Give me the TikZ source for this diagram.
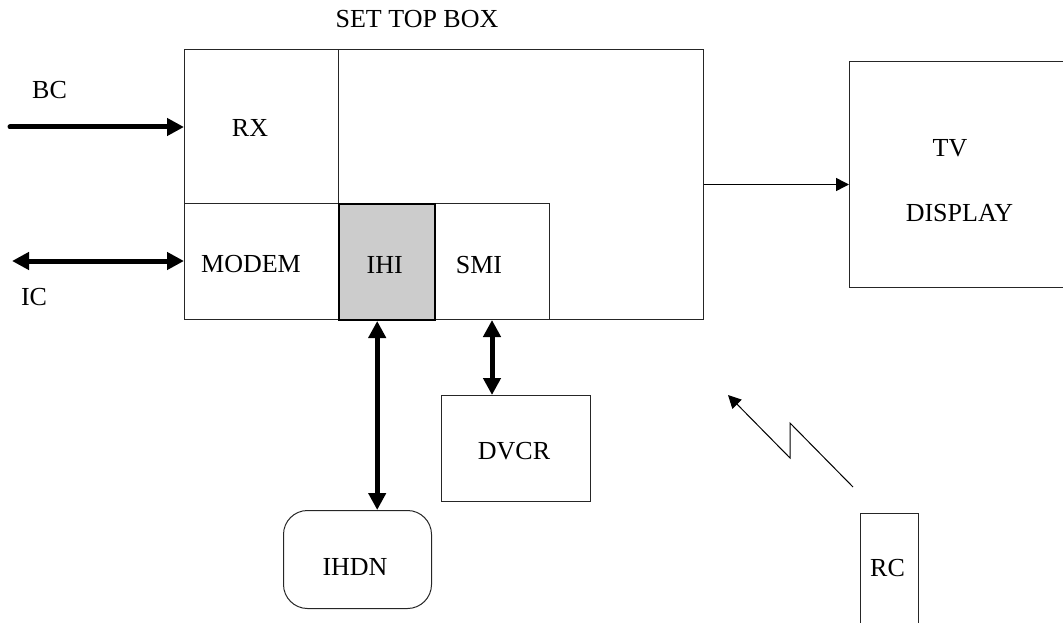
\documentclass[tikz,border=0pt]{standalone}
\usepackage{fontspec}
\setmainfont{Liberation Serif}
\usetikzlibrary{arrows.meta,calc}
\begin{document}
\begin{tikzpicture}[x=1pt,y=-1pt,
  box/.style={draw=black!85,line width=1pt,rectangle,inner sep=0pt,anchor=north west},
  lbl/.style={font=\fontsize{26}{30}\selectfont,anchor=base,inner sep=0pt},
  thickone/.style={line width=5pt,line cap=round,-{Triangle[length=17pt,width=17pt]}},
  thicktwo/.style={line width=5pt,{Triangle[length=17pt,width=17pt]}-{Triangle[length=17pt,width=17pt]}},
  thinone/.style={line width=1.5pt,-{Triangle[length=13pt,width=13pt]}}
]
\useasboundingbox (0,0) rectangle (1063,623);
% boxes
\node[box,minimum width=519pt,minimum height=270pt] (stb) at (184,49) {};
\node[box,minimum width=154pt,minimum height=154pt] (rx) at (184,49) {};
\node[box,minimum width=154pt,minimum height=116pt] (modem) at (184,203) {};
\node[box,minimum width=115pt,minimum height=116pt] (smi) at (434,203) {};
\node[box,fill=black!20,draw=black,line width=2pt,minimum width=96pt,minimum height=116pt] (ihi) at (338,203) {};
\node[box,minimum width=226pt,minimum height=226pt] (tv) at (849,61) {};
\node[box,minimum width=149pt,minimum height=106pt] (dvcr) at (441,395) {};
\node[box,rounded corners=24pt,minimum width=148pt,minimum height=98pt] (ihdn) at (283,510) {};
\node[box,minimum width=58pt,minimum height=130pt] (rc) at (860,513) {};
% labels
\node[lbl] (tstb) at (417,28) {SET TOP BOX};
\node[lbl] (tbc) at (49.5,99) {BC};
\node[lbl] (tic) at (34,305) {IC};
\node[lbl] (trx) at (250,136.7) {RX};
\node[lbl] (tmodem) at (251,272.7) {MODEM};
\node[lbl] (tihi) at (384.7,273.3) {IHI};
\node[lbl] (tsmi) at (479,273.3) {SMI};
\node[lbl] (ttv) at (950,157) {TV};
\node[lbl] (tdisp) at (959.5,221.7) {DISPLAY};
\node[lbl] (tdvcr) at (514,459.3) {DVCR};
\node[lbl] (tihdn) at (355,575) {IHDN};
\node[lbl] (trc) at (887.5,576.7) {RC};
% connectors
\coordinate (bcin) at (10,127);
\coordinate (icout) at (12,261);
\draw[thickone] (bcin) -- (bcin -| rx.west);
\draw[thicktwo] (icout) -- (icout -| modem.west);
\draw[thinone] (stb.east) -- (stb.east -| tv.west);
\coordinate (ihibot) at ($(ihi.south west)!0.4!(ihi.south east)$);
\draw[thicktwo] (ihibot) -- (ihibot |- ihdn.north);
\draw[thicktwo] (smi.south) -- (smi.south |- dvcr.north);
% wireless signal
\coordinate (w0) at (853,487);
\coordinate (w1) at (790,423);
\coordinate (w2) at (790,458);
\coordinate (w3) at (728,395);
\draw[thinone,line width=1pt] (w0) -- (w1) -- (w2) -- (w3);
\end{tikzpicture}
\end{document}
